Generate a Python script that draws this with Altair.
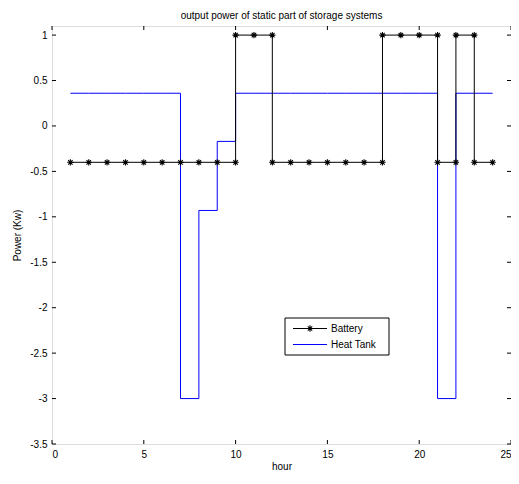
import altair as alt
import pandas as pd

hours = [1, 2, 3, 4, 5, 6, 7, 8, 9, 10, 11, 12, 13, 14, 15, 16, 17, 18, 19, 20, 21, 22, 23, 24]
battery = [-0.4, -0.4, -0.4, -0.4, -0.4, -0.4, -0.4, -0.4, -0.4, 1, 1, -0.4,
           -0.4, -0.4, -0.4, -0.4, -0.4, 1, 1, 1, -0.4, 1, -0.4, -0.4]
heat_tank = [0.36, 0.36, 0.36, 0.36, 0.36, 0.36, -3, -0.93, -0.17, 0.36, 0.36, 0.36,
             0.36, 0.36, 0.36, 0.36, 0.36, 0.36, 0.36, 0.36, -3, 0.36, 0.36, 0.36]
x_ticks = [0, 5, 10, 15, 20, 25]
y_ticks = [-3.5, -3, -2.5, -2, -1.5, -1, -0.5, 0, 0.5, 1]

W, H = 459, 418
FONT = "Liberation Sans"

# stair vertices for the battery (markers at every vertex, as MATLAB stairs does)
bat_rows = []
for i, (h, v) in enumerate(zip(hours, battery)):
    bat_rows.append({"hour": h, "p": v, "o": 2 * i})
    if i < len(hours) - 1:
        bat_rows.append({"hour": hours[i + 1], "p": v, "o": 2 * i + 1})
bat_df = pd.DataFrame(bat_rows)
bat_pts_df = bat_df.drop_duplicates(subset=["hour", "p"])
heat_df = pd.DataFrame({"hour": hours, "p": heat_tank})

xs = alt.Scale(domain=[0, 25], nice=False, zero=False)
ys = alt.Scale(domain=[-3.5, 1.1], nice=False, zero=False)
xaxis = alt.Axis(values=x_ticks, title="hour", grid=False, ticks=False, domain=False,
                 labelFontSize=10, titleFontSize=10, labelPadding=5, titlePadding=2,
                 titleFontWeight="normal", labelFont=FONT, titleFont=FONT,
                 labelColor="black", titleColor="black", labelExpr="'' + datum.value")
yaxis = alt.Axis(values=y_ticks, title="Power (Kw)", grid=False, ticks=False, domain=False,
                 labelFontSize=10, titleFontSize=10, labelPadding=5, titlePadding=7,
                 titleFontWeight="normal", labelFont=FONT, titleFont=FONT,
                 labelColor="black", titleColor="black", labelExpr="'' + datum.value")


def X(f="hour"):
    return alt.X(f + ":Q", scale=xs, axis=xaxis)


def Y(f="p"):
    return alt.Y(f + ":Q", scale=ys, axis=yaxis)


heat_line = alt.Chart(heat_df).mark_line(color="#0000FF", strokeWidth=1,
                                         interpolate="step-after").encode(x=X(), y=Y())
bat_line = alt.Chart(bat_df).mark_line(color="black", strokeWidth=1).encode(
    x=X(), y=Y(), order="o:Q")
star = "M-1,0L1,0M0,-1L0,1M-0.7,-0.7L0.7,0.7M-0.7,0.7L0.7,-0.7"
bat_pts = alt.Chart(bat_pts_df).mark_point(shape=star, size=40, filled=False, color="black",
                                           strokeWidth=1.1, opacity=1).encode(x=X(), y=Y())

xt = pd.DataFrame({"hour": x_ticks})
yt = pd.DataFrame({"p": y_ticks})
tick_b = alt.Chart(xt).mark_rule(color="black").encode(x=X(), y=alt.value(H), y2=alt.value(H - 4))
tick_t = alt.Chart(xt).mark_rule(color="black").encode(x=X(), y=alt.value(0), y2=alt.value(4))
tick_l = alt.Chart(yt).mark_rule(color="black").encode(y=Y(), x=alt.value(0), x2=alt.value(4))
tick_r = alt.Chart(yt).mark_rule(color="black").encode(y=Y(), x=alt.value(W - 4), x2=alt.value(W))

one = pd.DataFrame({"k": [0]})
leg_box = alt.Chart(one).mark_rect(fill="white", stroke="black", strokeWidth=1).encode(
    x=alt.value(233), x2=alt.value(337), y=alt.value(292), y2=alt.value(329))
leg_bat = alt.Chart(one).mark_rule(color="black", strokeWidth=1).encode(
    x=alt.value(241), x2=alt.value(275), y=alt.value(302.5))
leg_star = alt.Chart(one).mark_point(shape=star, size=40, filled=False, color="black",
                                     strokeWidth=1.1, opacity=1).encode(
    x=alt.value(258), y=alt.value(302.5))
leg_heat = alt.Chart(one).mark_rule(color="#0000FF", strokeWidth=1).encode(
    x=alt.value(241), x2=alt.value(275), y=alt.value(318.5))
leg_t1 = alt.Chart(one).mark_text(align="left", baseline="middle", fontSize=10, font=FONT,
                                  color="black").encode(
    x=alt.value(279), y=alt.value(302.5), text=alt.value("Battery"))
leg_t2 = alt.Chart(one).mark_text(align="left", baseline="middle", fontSize=10, font=FONT,
                                  color="black").encode(
    x=alt.value(279), y=alt.value(318.5), text=alt.value("Heat Tank"))

chart = alt.layer(
    heat_line, bat_line, bat_pts, tick_b, tick_t, tick_l, tick_r,
    leg_box, leg_bat, leg_star, leg_heat, leg_t1, leg_t2
).properties(
    width=W, height=H,
    title=alt.Title("output power of static part of storage systems", fontSize=10,
                    font=FONT, fontWeight="normal", color="black", offset=5),
    padding={"left": 44, "top": 18, "right": 0, "bottom": 28},
    autosize=alt.AutoSizeParams(type="none"),
).configure_view(stroke="black", strokeWidth=1).configure(background="white")

chart.save("out.html", embed_options={"renderer": "svg", "actions": False})
